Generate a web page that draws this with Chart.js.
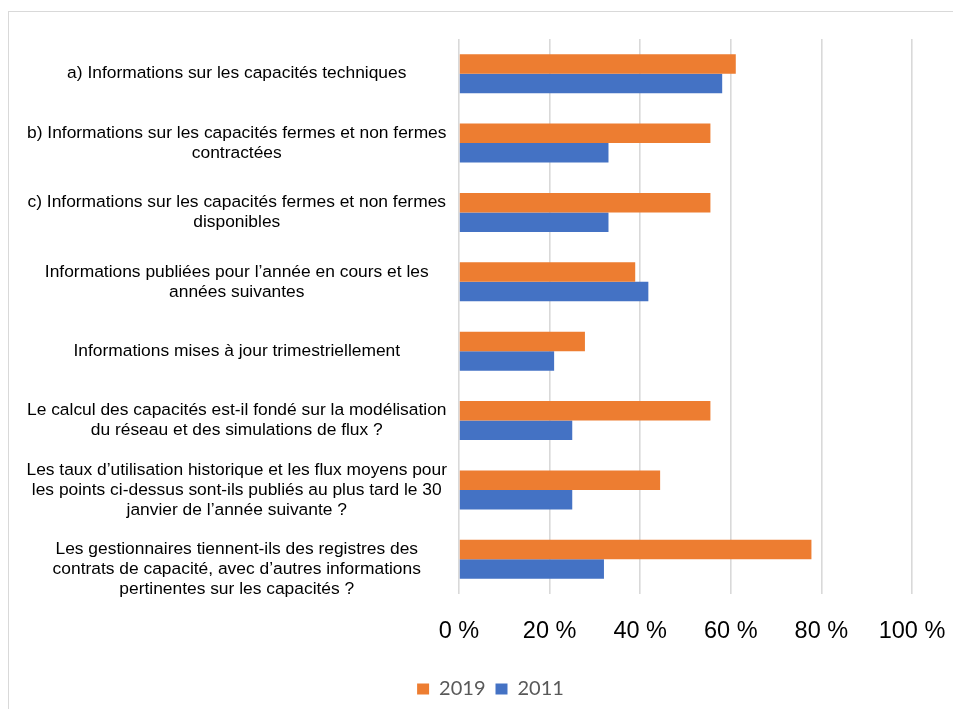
<!DOCTYPE html>
<html>
<head>
<meta charset="utf-8">
<script src="https://cdn.jsdelivr.net/npm/chart.js@4"></script>
<style>
  html, body { margin: 0; padding: 0; background: #ffffff; overflow: hidden; width: 953px; height: 709px; }
  #frame { position: absolute; left: 8px; top: 11px; width: 966px; height: 720px; border: 1px solid #d9d9d9; background: #fff; }
  #wrap { position: absolute; left: 0; top: 0; width: 966px; height: 697px; }
</style>
</head>
<body>
<div id="frame"><div id="wrap"><canvas id="c"></canvas></div></div>
<script>
const categories = [
  ["a) Informations sur les capacités techniques"],
  ["b) Informations sur les capacités fermes et non fermes", "contractées"],
  ["c) Informations sur les capacités fermes et non fermes", "disponibles"],
  ["Informations publiées pour l’année en cours et les", "années suivantes"],
  ["Informations mises à jour trimestriellement"],
  ["Le calcul des capacités est-il fondé sur la modélisation", "du réseau et des simulations de flux ?"],
  ["Les taux d’utilisation historique et les flux moyens pour", "les points ci-dessus sont-ils publiés au plus tard le 30", "janvier de l’année suivante ?"],
  ["", "Les gestionnaires tiennent-ils des registres des", "contrats de capacité, avec d’autres informations", "pertinentes sur les capacités ?"]
];
const seriesNames = ["2019", "2011"];
const values2019 = [61.1, 55.5, 55.5, 38.9, 27.8, 55.5, 44.4, 77.8];
const values2011 = [58.1, 33.0, 33.0, 41.8, 21.0, 25.0, 25.0, 32.0];
const tickValues = [0, 20, 40, 60, 80, 100];
const tickSuffix = " %";

// shift the legend block so it is centred on the full (wider) chart frame
const legendShift = {
  id: 'legendShift',
  afterLayout(chart) {
    const lg = chart.legend;
    if (lg) { lg.left += 30; lg.right += 30; }
  }
};

const ctx = document.getElementById('c');
new Chart(ctx, {
  type: 'bar',
  data: {
    labels: categories,
    datasets: [
      { label: seriesNames[0], data: values2019, backgroundColor: '#ED7D31', borderWidth: 0 },
      { label: seriesNames[1], data: values2011, backgroundColor: '#4472C4', borderWidth: 0 }
    ]
  },
  plugins: [legendShift],
  options: {
    indexAxis: 'y',
    responsive: true,
    maintainAspectRatio: false,
    animation: false,
    categoryPercentage: 0.563,
    barPercentage: 1.0,
    layout: { padding: { top: 27, left: 0, right: 63, bottom: 0 } },
    plugins: {
      tooltip: { enabled: false },
      legend: {
        position: 'bottom',
        labels: {
          boxWidth: 12,
          boxHeight: 11,
          padding: 10,
          color: '#595959',
          font: { family: 'Lato', size: 20 }
        }
      }
    },
    scales: {
      x: {
        min: 0,
        max: 100,
        afterBuildTicks: (scale) => { scale.ticks = tickValues.map(v => ({ value: v })); },
        afterFit: (scale) => { scale.height = 75; },
        grid: { color: '#d9d9d9', lineWidth: 1.6, drawTicks: false },
        border: { display: false },
        ticks: {
          padding: 23,
          color: '#000000',
          maxRotation: 0,
          autoSkip: false,
          font: { family: 'Liberation Sans', size: 23.5 },
          callback: (v) => v + tickSuffix
        }
      },
      y: {
        afterFit: (scale) => { scale.width = 450; scale.paddingTop = 0; scale.paddingBottom = 0; },
        grid: { display: false, drawTicks: false },
        border: { display: false },
        ticks: {
          crossAlign: 'center',
          padding: 12,
          color: '#000000',
          autoSkip: false,
          font: { family: 'Liberation Sans', size: 17.4, lineHeight: 1.15 }
        }
      }
    }
  }
});
</script>
</body>
</html>
